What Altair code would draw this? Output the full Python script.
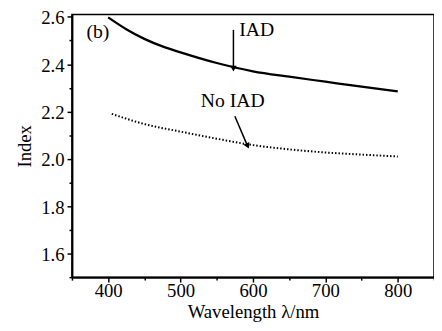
import altair as alt
import pandas as pd

wavelength = [400, 425, 450, 475, 500, 550, 600, 650, 700, 750, 800]
iad = [2.598, 2.548, 2.507, 2.475, 2.450, 2.405, 2.370, 2.347, 2.326, 2.305, 2.285]
wavelength_no = [405, 450, 500, 550, 600, 650, 700, 750, 800]
no_iad = [2.190, 2.147, 2.115, 2.085, 2.058, 2.040, 2.027, 2.018, 2.010]

x_ticks = [350, 400, 450, 500, 550, 600, 650, 700, 750, 800, 850]
y_ticks = [1.5, 1.6, 1.7, 1.8, 1.9, 2.0, 2.1, 2.2, 2.3, 2.4, 2.5, 2.6]

labels = ["(b)", "IAD", "No IAD"]
label_x = [370, 581, 528]
label_y = [2.535, 2.545, 2.245]

arrow_x = [573, 575]
arrow_y = [2.545, 2.18]
arrow_x2 = [573, 592]
arrow_y2 = [2.385, 2.058]
arrow_angle = [180, 155]

FONT = "'Liberation Serif', 'Times New Roman', Tinos, 'DejaVu Serif', serif"

df_iad = pd.DataFrame({"w": wavelength, "n": iad})
df_no = pd.DataFrame({"w": wavelength_no, "n": no_iad})
df_lab = pd.DataFrame({"t": labels, "x": label_x, "y": label_y})
df_arr = pd.DataFrame({"x": arrow_x, "y": arrow_y, "x2": arrow_x2, "y2": arrow_y2, "a": arrow_angle})

xs = alt.Scale(domain=[350, 850], nice=False, zero=False)
ys = alt.Scale(domain=[1.5, 2.61], nice=False, zero=False)

xaxis = alt.Axis(
    values=x_ticks,
    labelExpr="(datum.value % 100 == 0 && datum.value >= 400 && datum.value <= 800) ? datum.label : ''",
    labelOverlap=False,
    tickSize=5,
    tickDash={"condition": {"test": "datum.value % 100 != 0", "value": [3, 20]}, "value": [6, 0]},
    grid=False, domainColor="black", domainWidth=2, tickColor="black", tickWidth=1.5,
    labelFont=FONT, labelFontSize=19, labelColor="black", labelPadding=0,
    titleFont=FONT, titleFontSize=19, titleFontWeight="normal", titleColor="black",
    titleBaseline="alphabetic", titleY=41,
    title="Wavelength λ/nm",
)
yaxis = alt.Axis(
    values=y_ticks,
    labelExpr="(round(datum.value * 10) % 2 == 0) ? format(datum.value, '.1f') : ''",
    labelOverlap=False,
    tickSize=5,
    tickDash={"condition": {"test": "round(datum.value * 10) % 2 != 0", "value": [3, 20]}, "value": [6, 0]},
    grid=False, domainColor="black", domainWidth=2, tickColor="black", tickWidth=1.5,
    labelFont=FONT, labelFontSize=19, labelColor="black", labelPadding=3, labelOffset=1,
    titleFont=FONT, titleFontSize=19, titleFontWeight="normal", titleColor="black", titlePadding=6,
    title="Index",
)


def X(f):
    return alt.X(f, type="quantitative", scale=xs, axis=xaxis)


def Y(f):
    return alt.Y(f, type="quantitative", scale=ys, axis=yaxis)


solid = alt.Chart(df_iad).mark_line(color="black", strokeWidth=2.3, interpolate="monotone").encode(
    x=X("w"), y=Y("n"),
)
dotted = alt.Chart(df_no).mark_line(color="black", strokeWidth=2, strokeDash=[1.5, 2], interpolate="monotone").encode(
    x=X("w"), y=Y("n"),
)
text = alt.Chart(df_lab).mark_text(font=FONT, fontSize=20, align="left", baseline="middle", color="black").encode(
    x=X("x"), y=Y("y"), text="t:N"
)
shafts = alt.Chart(df_arr).mark_rule(color="black", strokeWidth=1.5).encode(
    x=X("x"), y=Y("y"), x2="x2:Q", y2="y2:Q"
)
heads = alt.Chart(df_arr).mark_point(shape="triangle", filled=True, color="black", size=45, opacity=1).encode(
    x=X("x2"), y=Y("y2"), angle=alt.Angle("a:Q", scale=None)
)

chart = alt.layer(solid, dotted, shafts, heads, text).properties(
    width=368, height=267,
    autosize=alt.AutoSizeParams(type="none"),
    padding={"left": 65, "top": 4, "right": 0, "bottom": 44},
    background="white",
).configure_view(stroke="black", strokeWidth=1.5)

chart.save("out.html", embed_options={"renderer": "svg", "actions": False})
